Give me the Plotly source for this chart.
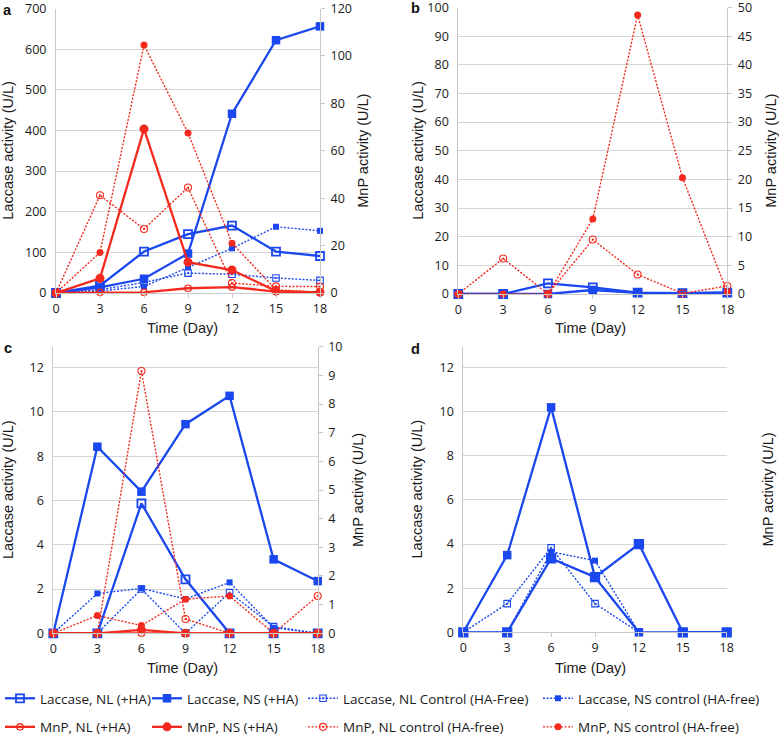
import plotly.graph_objects as go

W, H = 779, 735

days = [0, 3, 6, 9, 12, 15, 18]
x_ticks = [0, 3, 6, 9, 12, 15, 18]

# ---------------- Panel a ----------------
a_lac_nl = [0, 18, 102, 145, 166, 102, 91]
a_lac_ns = [0, 14, 35, 97, 441, 622, 656]
a_lac_nl_ctrl = [0, 8, 26, 49, 46, 37, 31]
a_lac_ns_ctrl = [0, 5, 16, 64, 110, 163, 153]
a_mnp_nl = [0, 0.3, 0.3, 2.0, 2.5, 0.6, 0.3]
a_mnp_ns = [0, 6.2, 69.2, 13.0, 9.7, 0.8, 0.3]
a_mnp_nl_ctrl = [0, 41.2, 27.0, 44.5, 4.2, 2.8, 2.7]
a_mnp_ns_ctrl = [0, 17.1, 104.6, 67.5, 21.0, 1.4, 0.3]

# ---------------- Panel b ----------------
b_lac_nl = [0, 0, 3.7, 2.3, 0.5, 0.3, 0.5]
b_lac_ns = [0, 0, 0, 1.4, 0.4, 0.3, 0.5]
b_mnp_nl_ctrl = [0, 6.2, 0, 9.5, 3.4, 0.1, 1.4]
b_mnp_ns_ctrl = [0, 0, 0, 13.1, 48.7, 20.3, 0.3]

# ---------------- Panel c ----------------
c_lac_nl = [0, 0, 5.87, 2.44, 0, 0, 0]
c_lac_ns = [0, 8.43, 6.4, 9.45, 10.73, 3.34, 2.36]
c_lac_nl_ctrl = [0, 0, 2.0, 0, 1.84, 0.3, 0]
c_lac_ns_ctrl = [0, 1.8, 2.03, 1.55, 2.3, 0.25, 0]
c_mnp_nl = [0, 0, 0, 0, 0, 0, 0]
c_mnp_ns = [0, 0, 0.12, 0, 0, 0, 0]
c_mnp_nl_ctrl = [0, 0, 9.15, 0.5, 0, 0, 1.3]
c_mnp_ns_ctrl = [0, 0.62, 0.27, 1.19, 1.3, 0, 0]

# ---------------- Panel d ----------------
d_lac_ns = [0, 3.5, 10.2, 2.5, 0, 0, 0]
d_lac_nl = [0, 0, 3.35, 2.5, 4.0, 0, 0]
d_lac_nl_ctrl = [0, 1.3, 3.83, 1.3, 0, None, None]
d_lac_ns_ctrl = [0, 0, 3.65, 3.25, 0, None, None]

# axis ranges
a_left = [0, 700]; a_right = [0, 120]
b_left = [0, 100]; b_right = [0, 50]
c_left = [0, 12.95]; c_right = [0, 10]
d_left = [0, 12.95]; d_right = [0, 10]

BLUE = "#1a47ee"
RED = "#f42a1e"
TXT = "#1a1a1a"
GRID = "#d4d4d4"
AXL = "#c8c8c8"
DOT = "2px,1.6px"

STY = {
    "lac_nl": dict(name="Laccase, NL (+HA)", color=BLUE, dash="solid", width=2.3,
                   symbol="square-open", size=8, mlw=1.8, legend="legend"),
    "mnp_nl": dict(name="MnP, NL (+HA)", color=RED, dash="solid", width=2.3,
                   symbol="circle-open", size=6.5, mlw=1.2, legend="legend"),
    "lac_ns": dict(name="Laccase, NS (+HA)", color=BLUE, dash="solid", width=2.3,
                   symbol="square", size=8.5, mlw=0, legend="legend2"),
    "mnp_ns": dict(name="MnP, NS (+HA)", color=RED, dash="solid", width=2.3,
                   symbol="circle", size=9, mlw=0, legend="legend2"),
    "lac_nl_ctrl": dict(name="Laccase, NL Control (HA-Free)", color=BLUE, dash=DOT, width=1.4,
                        symbol="square-open-dot", size=6.5, mlw=1.1, legend="legend3"),
    "mnp_nl_ctrl": dict(name="MnP, NL control (HA-free)", color=RED, dash=DOT, width=1.4,
                        symbol="circle-open-dot", size=7, mlw=1.1, legend="legend3"),
    "lac_ns_ctrl": dict(name="Laccase, NS control (HA-free)", color=BLUE, dash=DOT, width=1.4,
                        symbol="square", size=6, mlw=0, legend="legend4"),
    "mnp_ns_ctrl": dict(name="MnP, NS control (HA-free)", color=RED, dash=DOT, width=1.4,
                        symbol="circle", size=7, mlw=0, legend="legend4"),
}

fig = go.Figure()


def add(key, y, xa, ya, showlegend=False, symbol=None, size=None):
    s = STY[key]
    fig.add_trace(go.Scatter(
        x=days, y=y, xaxis=xa, yaxis=ya, mode="lines+markers",
        name=s["name"], legendgroup=key, legend=s["legend"], showlegend=showlegend,
        line=dict(color=s["color"], width=s["width"], dash=s["dash"]),
        marker=dict(symbol=symbol or s["symbol"], size=size or s["size"], color=s["color"],
                    line=dict(color=s["color"], width=s["mlw"])),
        cliponaxis=False, connectgaps=False,
    ))


# panel a (all series, provides the legend)
add("lac_nl", a_lac_nl, "x", "y", True)
add("lac_ns", a_lac_ns, "x", "y", True)
add("lac_nl_ctrl", a_lac_nl_ctrl, "x", "y", True)
add("lac_ns_ctrl", a_lac_ns_ctrl, "x", "y", True)
add("mnp_nl", a_mnp_nl, "x", "y2", True)
add("mnp_ns", a_mnp_ns, "x", "y2", True)
add("mnp_nl_ctrl", a_mnp_nl_ctrl, "x", "y2", True)
add("mnp_ns_ctrl", a_mnp_ns_ctrl, "x", "y2", True)

# panel b
add("lac_nl", b_lac_nl, "x2", "y3")
add("lac_ns", b_lac_ns, "x2", "y3")
add("mnp_nl_ctrl", b_mnp_nl_ctrl, "x2", "y4")
add("mnp_ns_ctrl", b_mnp_ns_ctrl, "x2", "y4")

# panel c
add("lac_nl", c_lac_nl, "x3", "y5")
add("lac_ns", c_lac_ns, "x3", "y5")
add("lac_nl_ctrl", c_lac_nl_ctrl, "x3", "y5")
add("lac_ns_ctrl", c_lac_ns_ctrl, "x3", "y5")
add("mnp_nl", c_mnp_nl, "x3", "y6")
add("mnp_ns", c_mnp_ns, "x3", "y6")
add("mnp_nl_ctrl", c_mnp_nl_ctrl, "x3", "y6")
add("mnp_ns_ctrl", c_mnp_ns_ctrl, "x3", "y6")

# panel d
add("lac_nl_ctrl", d_lac_nl_ctrl, "x4", "y7")
add("lac_ns_ctrl", d_lac_ns_ctrl, "x4", "y7")
add("lac_nl", d_lac_nl, "x4", "y7", symbol="square", size=8.5)
add("lac_ns", d_lac_ns, "x4", "y7")


def px_x(p):
    return p / W


def px_y(p):
    return 1 - p / H


panels = {
    # name: (x0, x1, ytop, ybottom) in pixels
    "a": (56, 320, 8.5, 293),
    "b": (458.3, 727.3, 7.5, 294),
    "c": (53.3, 317.7, 346.7, 633.3),
    "d": (463.3, 726.7, 346.7, 632.3),
}

tickfont = dict(family="Open Sans", size=12.5, color=TXT)


def set_axes(xname, yname, y2name, yref, y2ref, xref, pan, lrange, ldt, rrange, rdt):
    x0, x1, yt, yb = panels[pan]
    fig.layout[xname] = dict(
        domain=[px_x(x0), px_x(x1)], anchor=yref, range=[0, 18], tickvals=x_ticks,
        showgrid=False, zeroline=False, showline=True, linecolor=AXL, linewidth=1,
        ticks="outside", ticklen=4, tickcolor=AXL, tickfont=tickfont, fixedrange=True,
        automargin=False, ticklabeloverflow="allow",
    )
    fig.layout[yname] = dict(
        domain=[px_y(yb), px_y(yt)], anchor=xref, range=lrange, dtick=ldt, tick0=0,
        showgrid=True, gridcolor=GRID, gridwidth=1, zeroline=False,
        showline=True, linecolor=AXL, linewidth=1, ticks="", tickfont=tickfont,
        ticklabelstandoff=6, fixedrange=True, automargin=False, ticklabeloverflow="allow",
    )
    fig.layout[y2name] = dict(
        overlaying=yref, side="right", anchor=xref, range=rrange, dtick=rdt, tick0=0,
        showgrid=False, zeroline=False, showline=True, linecolor=AXL, linewidth=1,
        ticks="outside", ticklen=4, tickcolor=AXL, tickfont=tickfont,
        ticklabelstandoff=3, fixedrange=True, automargin=False, ticklabeloverflow="allow",
    )


set_axes("xaxis", "yaxis", "yaxis2", "y", "y2", "x", "a", a_left, 100, a_right, 20)
set_axes("xaxis2", "yaxis3", "yaxis4", "y3", "y4", "x2", "b", b_left, 10, b_right, 5)
set_axes("xaxis3", "yaxis5", "yaxis6", "y5", "y6", "x3", "c", c_left, 2, c_right, 1)
set_axes("xaxis4", "yaxis7", "yaxis8", "y7", "y8", "x4", "d", d_left, 2, d_right, 1)

title_font = dict(family="Liberation Sans, Arial", size=14.5, color=TXT)
ann = []
# axis titles
for pan, lx, rx in [("a", 8, 363), ("b", 418, 771), ("c", 8, 358), ("d", 416, 767)]:
    x0, x1, yt, yb = panels[pan]
    yc = (yt + yb) / 2
    ann.append(dict(text="Laccase activity (U/L)", x=px_x(lx), y=px_y(yc), xref="paper", yref="paper",
                    xanchor="center", yanchor="middle", textangle=-90, showarrow=False, font=title_font))
    ann.append(dict(text="MnP activity (U/L)", x=px_x(rx), y=px_y(yc), xref="paper", yref="paper",
                    xanchor="center", yanchor="middle", textangle=-90, showarrow=False, font=title_font))
for cx, cy in [(182, 328), (590, 328), (182, 668), (590, 668)]:
    ann.append(dict(text="Time (Day)", x=px_x(cx), y=px_y(cy), xref="paper", yref="paper",
                    xanchor="center", yanchor="middle", showarrow=False, font=title_font))
# panel letters
letter_font = dict(family="Liberation Sans, Arial", size=14.5, color="#111111")
ann.append(dict(text="<b>a</b>", x=px_x(1), y=1.0, xref="paper", yref="paper",
                xanchor="left", yanchor="top", showarrow=False, font=letter_font))
for t, lx, ly in [("b", 409, 8.5), ("c", 2, 348), ("d", 409, 349)]:
    ann.append(dict(text="<b>%s</b>" % t, x=px_x(lx), y=px_y(ly), xref="paper", yref="paper",
                    xanchor="left", yanchor="middle", showarrow=False, font=letter_font))

legend_font = dict(family="Open Sans", size=13.5, color=TXT)
legend_common = dict(orientation="v", xanchor="left", yanchor="top", y=px_y(683),
                     bgcolor="rgba(0,0,0,0)", borderwidth=0, font=legend_font,
                     tracegroupgap=8, itemwidth=30, traceorder="grouped")
layout_legends = {}
for lg, lx in [("legend", 0), ("legend2", 147), ("legend3", 303), ("legend4", 538)]:
    d = dict(legend_common)
    d["x"] = px_x(lx)
    layout_legends[lg] = d

fig.update_layout(
    width=W, height=H, margin=dict(l=0, r=0, t=0, b=0, autoexpand=False),
    paper_bgcolor="white", plot_bgcolor="white",
    annotations=ann, showlegend=True, **layout_legends,
)

fig.write_html(
    "out.html",
    config={"displayModeBar": False},
    post_script="document.body.style.margin='0';document.body.style.padding='0';",
)
